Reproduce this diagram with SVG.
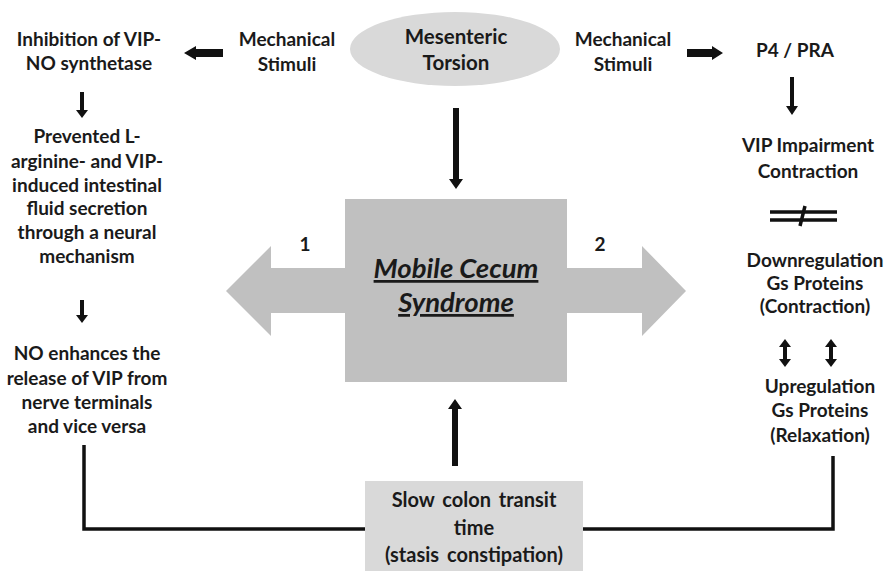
<svg xmlns="http://www.w3.org/2000/svg" width="885" height="571" viewBox="0 0 885 571">
<style>
.t{font-family:Lato,"Liberation Sans",sans-serif;font-weight:bold;font-size:19px;fill:#1a1a1a;text-anchor:middle}
.m{font-size:20.5px}
.s{font-size:20px;word-spacing:3px}
.big{font-family:Lato,"Liberation Sans",sans-serif;font-weight:bold;font-style:italic;font-size:27.5px;fill:#1a1a1a;text-anchor:middle;text-decoration:underline}
.ar{fill:#111}
.ln{fill:none;stroke:#111;stroke-width:3.5}
</style>
<rect width="885" height="571" fill="#fff"/>
<g id="connectors">
<polygon id="dbl-arrow" fill="#c0c0c0" points="226,291 271,246 271,268 642,268 642,246 686,291 642,336 642,313 271,313 271,336"/>
<polygon class="ar" points="453,108 459,108 459,179 463,179 456,189 449,179 453,179"/>
<polygon class="ar" points="452,466 458,466 458,409 462,409 455,399 448,409 452,409"/>
<polygon class="ar" points="223,49 196,49 196,46 184,53 196,60 196,57 223,57"/>
<polygon class="ar" points="687,49 712,49 712,46 723,53 712,60 712,57 687,57"/>
<polygon class="ar" points="790,77 794,77 794,106 798,106 792,115 786,106 790,106"/>
<polygon class="ar" points="80,92 84,92 84,110 88,110 82,118 76,110 80,110"/>
<polygon class="ar" points="80,300 84,300 84,315 88,315 82,323 76,315 80,315"/>
<polygon class="ar" points="785,339 791,347 787,347 787,359 791,359 785,367 779,359 783,359 783,347 779,347"/>
<polygon class="ar" points="831,339 837,347 833,347 833,359 837,359 831,367 825,359 829,359 829,347 825,347"/>
<path class="ln" d="M84,445 V529 H365"/>
<path class="ln" d="M583,529 H833 V456"/>
<path class="ln" d="M770,212 H837 M770,220 H837"/>
<path class="ln" stroke-width="3" d="M805,206 L800,226"/>
</g>
<g id="mesenteric">
<ellipse cx="455" cy="49" rx="105" ry="37" fill="#d9d9d9"/>
<text class="t m" x="456" y="44">Mesenteric</text>
<text class="t m" x="456" y="70">Torsion</text>
</g>
<g id="mcs">
<rect x="345" y="199" width="222" height="183" fill="#c0c0c0"/>
<text class="big" x="456" y="278">Mobile Cecum</text>
<text class="big" x="456" y="312">Syndrome</text>
</g>
<g id="label1"><text class="t" x="305" y="251">1</text></g>
<g id="label2"><text class="t" x="600" y="251">2</text></g>
<g id="mech-left">
<text class="t" x="287" y="46">Mechanical</text>
<text class="t" x="287" y="71">Stimuli</text>
</g>
<g id="mech-right">
<text class="t" x="623" y="46">Mechanical</text>
<text class="t" x="623" y="71">Stimuli</text>
</g>
<g id="inhibition">
<text class="t" x="89" y="46">Inhibition of VIP-</text>
<text class="t" x="89" y="70">NO synthetase</text>
</g>
<g id="prevented">
<text class="t" x="87" y="143">Prevented L-</text>
<text class="t" x="87" y="168">arginine- and VIP-</text>
<text class="t" x="87" y="192">induced intestinal</text>
<text class="t" x="87" y="215">fluid secretion</text>
<text class="t" x="87" y="239">through a neural</text>
<text class="t" x="87" y="263">mechanism</text>
</g>
<g id="no-enhances">
<text class="t" x="87" y="360">NO enhances the</text>
<text class="t" x="87" y="385">release of VIP from</text>
<text class="t" x="87" y="409">nerve terminals</text>
<text class="t" x="87" y="433">and vice versa</text>
</g>
<g id="p4">
<text class="t" x="795" y="57">P4 / PRA</text>
</g>
<g id="vip-impairment">
<text class="t" x="808" y="152">VIP Impairment</text>
<text class="t" x="808" y="178">Contraction</text>
</g>
<g id="downregulation">
<text class="t" x="815" y="267">Downregulation</text>
<text class="t" x="815" y="290">Gs Proteins</text>
<text class="t" x="815" y="313">(Contraction)</text>
</g>
<g id="upregulation">
<text class="t" x="820" y="393">Upregulation</text>
<text class="t" x="820" y="417">Gs Proteins</text>
<text class="t" x="820" y="442">(Relaxation)</text>
</g>
<g id="slow-transit">
<rect x="365" y="481" width="218" height="95" fill="#d9d9d9"/>
<text class="t s" x="474" y="507">Slow colon transit</text>
<text class="t s" x="474" y="535">time</text>
<text class="t s" x="474" y="562">(stasis constipation)</text>
</g>
</svg>
